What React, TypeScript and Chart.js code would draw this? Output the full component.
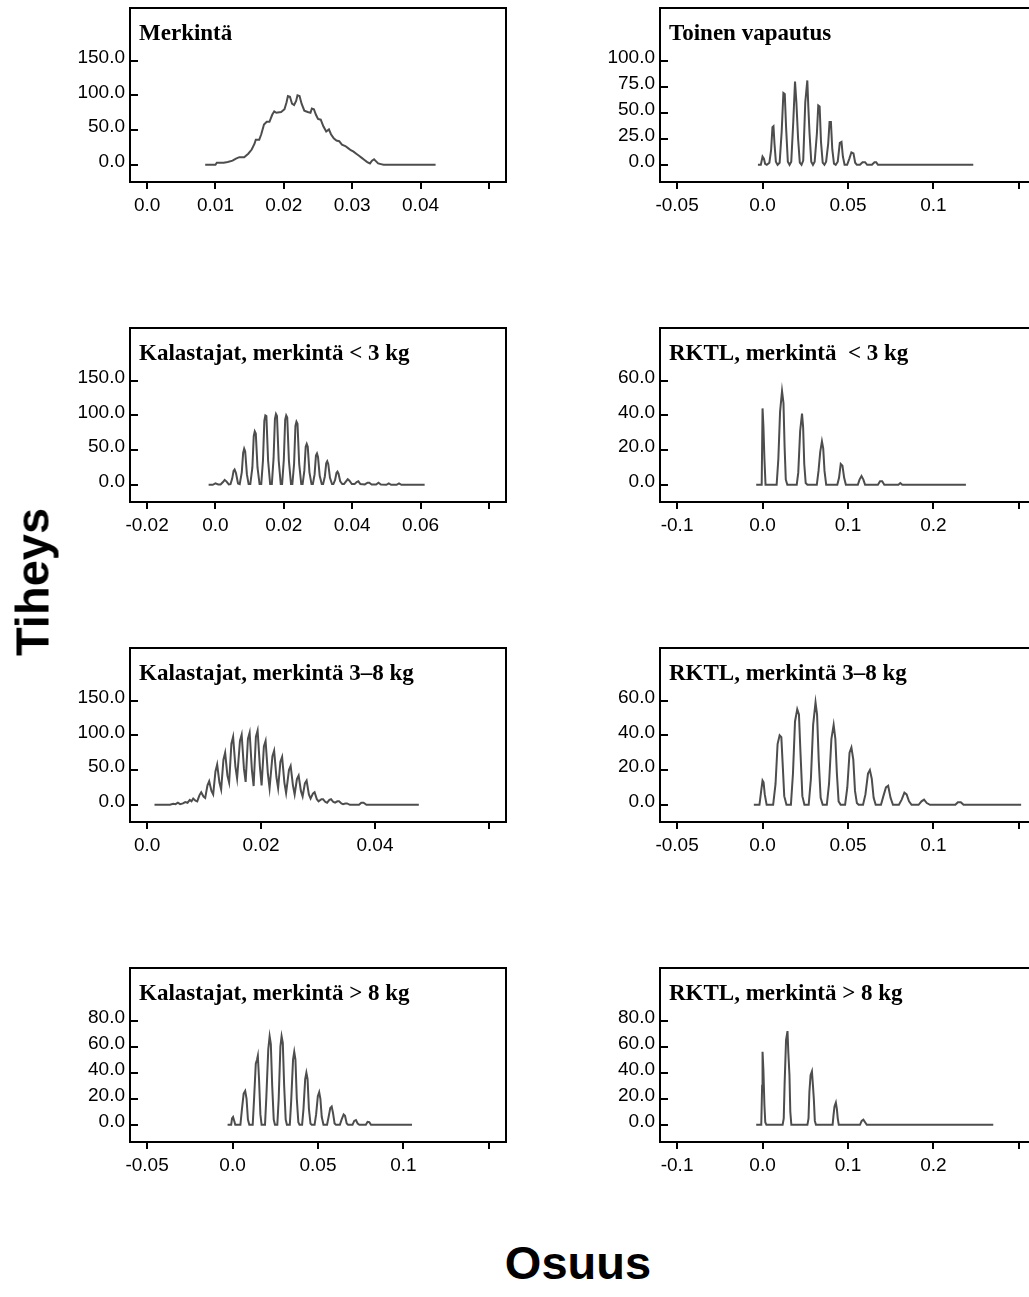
import React, { useEffect, useRef } from 'react';
import { Chart, registerables } from 'chart.js';

Chart.register(...registerables);

type Pt = [number, number];

// ---------- data (x = osuus, y = tiheys) ----------
const merkinta: Pt[] = [
  [0.0085, 0], [0.0100, 0], [0.0102, 3], [0.0112, 3], [0.0118, 4], [0.0125, 6], [0.0130, 9], [0.0135, 11],
  [0.0142, 11], [0.0148, 16], [0.0153, 22], [0.0157, 30], [0.0159, 36], [0.0164, 36], [0.0167, 44], [0.0171, 58],
  [0.0175, 62], [0.0179, 62], [0.0183, 72], [0.0186, 77], [0.0189, 75], [0.0196, 76], [0.0201, 80], [0.0204, 90],
  [0.0206, 99], [0.0209, 98], [0.0212, 88], [0.0215, 86], [0.0218, 92], [0.0220, 100], [0.0223, 99], [0.0226, 88],
  [0.0230, 78], [0.0235, 76], [0.0239, 75], [0.0241, 81], [0.0244, 80], [0.0247, 72], [0.0250, 66], [0.0254, 65],
  [0.0258, 55], [0.0262, 48], [0.0266, 51], [0.0269, 44], [0.0273, 38], [0.0277, 35], [0.0281, 34], [0.0285, 29],
  [0.0290, 27], [0.0294, 24], [0.0298, 21], [0.0302, 19], [0.0306, 16], [0.0310, 13], [0.0314, 10], [0.0318, 7],
  [0.0322, 4], [0.0326, 2], [0.0329, 6], [0.0332, 8], [0.0335, 5], [0.0338, 2], [0.0342, 1], [0.0346, 0],
  [0.0422, 0],
];

const toinenVapautus: Pt[] = [
  [-0.0027, 0], [-0.0010, 0], [0.0000, 8], [0.0008, 6], [0.0015, 1], [0.0025, 0], [0.0040, 2], [0.0050, 14],
  [0.0058, 36], [0.0064, 37], [0.0070, 20], [0.0078, 3], [0.0088, 0], [0.0100, 2], [0.0112, 32], [0.0122, 69],
  [0.0130, 68], [0.0138, 35], [0.0148, 3], [0.0158, 0], [0.0168, 3], [0.0180, 42], [0.0190, 80], [0.0198, 60],
  [0.0208, 25], [0.0218, 2], [0.0228, 0], [0.0238, 4], [0.0250, 60], [0.0262, 81], [0.0268, 55], [0.0275, 30],
  [0.0285, 3], [0.0295, 0], [0.0305, 3], [0.0318, 30], [0.0326, 57], [0.0334, 56], [0.0342, 22], [0.0352, 2],
  [0.0362, 0], [0.0372, 3], [0.0384, 20], [0.0392, 41], [0.0400, 41], [0.0408, 15], [0.0418, 1], [0.0428, 0],
  [0.0440, 3], [0.0452, 21], [0.0462, 22], [0.0470, 8], [0.0480, 0], [0.0495, 0], [0.0508, 6], [0.0520, 12],
  [0.0532, 11], [0.0542, 2], [0.0552, 0], [0.0570, 0], [0.0585, 2.5], [0.0600, 2.5], [0.0612, 0], [0.0640, 0],
  [0.0655, 2.5], [0.0665, 2.5], [0.0675, 0], [0.1233, 0],
];

const kalastajatAlle3: Pt[] = [
  [-0.0020, 0], [-0.0008, 0], [0.0000, 2], [0.0008, 0.5],
  [0.0015, 0.5], [0.0022, 4], [0.0027, 7], [0.0032, 5], [0.0039, 0.5],
  [0.0044, 1], [0.0049, 9], [0.0053, 20], [0.0056, 22], [0.0060, 17], [0.0066, 2],
  [0.0071, 1], [0.0077, 18], [0.0081, 46], [0.0084, 52], [0.0087, 48], [0.0092, 15], [0.0097, 1],
  [0.0102, 1], [0.0108, 25], [0.0112, 70], [0.0115, 77], [0.0118, 74], [0.0123, 25], [0.0129, 1],
  [0.0134, 1], [0.0139, 35], [0.0143, 92], [0.0146, 100], [0.0149, 99], [0.0154, 35], [0.0160, 1],
  [0.0165, 1], [0.0170, 38], [0.0174, 95], [0.0177, 102], [0.0180, 99], [0.0185, 35], [0.0191, 1],
  [0.0195, 1], [0.0200, 36], [0.0204, 94], [0.0207, 100], [0.0210, 97], [0.0215, 34], [0.0221, 1],
  [0.0225, 1], [0.0230, 30], [0.0234, 85], [0.0237, 91], [0.0240, 88], [0.0245, 30], [0.0251, 1],
  [0.0255, 1], [0.0260, 20], [0.0264, 55], [0.0267, 59], [0.0270, 55], [0.0275, 18], [0.0281, 1],
  [0.0285, 1], [0.0290, 15], [0.0294, 42], [0.0297, 45], [0.0300, 40], [0.0305, 13], [0.0311, 1],
  [0.0315, 1], [0.0320, 12], [0.0324, 31], [0.0327, 34], [0.0330, 30], [0.0335, 10], [0.0341, 1],
  [0.0345, 1], [0.0350, 7], [0.0354, 17], [0.0357, 19], [0.0360, 16], [0.0365, 5], [0.0371, 1],
  [0.0376, 1], [0.0382, 5], [0.0387, 8], [0.0392, 6], [0.0399, 1],
  [0.0407, 1], [0.0413, 4], [0.0418, 5], [0.0424, 1],
  [0.0437, 0.5], [0.0445, 3], [0.0450, 3], [0.0457, 0.5],
  [0.0470, 0.5], [0.0477, 3], [0.0484, 0.5],
  [0.0500, 0], [0.0507, 2], [0.0514, 0],
  [0.0530, 0], [0.0537, 2], [0.0544, 0], [0.0612, 0],
];

const rktlAlle3: Pt[] = [
  [-0.0074, 0], [-0.0010, 0], [0.0000, 44], [0.0010, 34], [0.0022, 15], [0.0035, 0], [0.0165, 0], [0.0185, 15],
  [0.0205, 42], [0.0228, 54], [0.0245, 47], [0.0258, 22], [0.0272, 3], [0.0290, 0], [0.0400, 0], [0.0418, 7],
  [0.0440, 31], [0.0462, 41], [0.0475, 33], [0.0488, 12], [0.0505, 1], [0.0525, 0], [0.0635, 0], [0.0655, 8],
  [0.0675, 19], [0.0695, 25], [0.0710, 21], [0.0725, 8], [0.0745, 0], [0.0875, 0], [0.0895, 4], [0.0915, 12],
  [0.0935, 11], [0.0955, 4], [0.0975, 0], [0.1115, 0], [0.1135, 3], [0.1158, 5], [0.1180, 3], [0.1200, 0],
  [0.1350, 0], [0.1375, 2], [0.1400, 2], [0.1425, 0], [0.1590, 0], [0.1612, 1], [0.1635, 0], [0.2380, 0],
];

const kalastajat3to8: Pt[] = [
  [0.0013, 0], [0.0040, 0], [0.0046, 1.5], [0.0050, 1], [0.0054, 3], [0.0058, 1], [0.0063, 2], [0.0067, 4],
  [0.0071, 3], [0.0075, 7], [0.0078, 5], [0.0081, 9], [0.0085, 6], [0.0088, 5], [0.0092, 14], [0.0095, 18],
  [0.0099, 12], [0.0102, 10], [0.0106, 28], [0.0109, 34], [0.0113, 20], [0.0116, 15], [0.0120, 48], [0.0123, 58],
  [0.0127, 32], [0.0130, 22], [0.0134, 65], [0.0137, 75], [0.0141, 42], [0.0144, 32], [0.0148, 88], [0.0151, 98],
  [0.0155, 55], [0.0158, 38], [0.0163, 92], [0.0166, 101], [0.0170, 52], [0.0173, 33], [0.0177, 95], [0.0180, 104],
  [0.0184, 50], [0.0187, 27], [0.0191, 98], [0.0194, 107], [0.0198, 55], [0.0201, 28], [0.0205, 84], [0.0208, 92],
  [0.0212, 45], [0.0215, 24], [0.0220, 70], [0.0223, 78], [0.0227, 40], [0.0230, 24], [0.0234, 62], [0.0237, 69],
  [0.0241, 32], [0.0244, 17], [0.0249, 50], [0.0252, 56], [0.0256, 28], [0.0259, 15], [0.0263, 37], [0.0266, 42],
  [0.0270, 20], [0.0273, 12], [0.0277, 31], [0.0280, 35], [0.0284, 15], [0.0287, 9], [0.0291, 16], [0.0294, 18],
  [0.0298, 8], [0.0301, 5], [0.0306, 8], [0.0309, 8], [0.0313, 4], [0.0316, 3], [0.0320, 7], [0.0323, 8],
  [0.0327, 4], [0.0330, 3], [0.0334, 5], [0.0337, 5], [0.0341, 2], [0.0344, 1], [0.0348, 2], [0.0351, 2],
  [0.0356, 0], [0.0372, 0], [0.0376, 3], [0.0380, 3], [0.0385, 0], [0.0477, 0],
];

const rktl3to8: Pt[] = [
  [-0.0051, 0], [-0.0018, 0], [-0.0008, 8], [0.0000, 14], [0.0006, 13], [0.0013, 6], [0.0024, 0], [0.0062, 0],
  [0.0076, 12], [0.0088, 35], [0.0100, 40], [0.0110, 39], [0.0117, 25], [0.0127, 5], [0.0140, 0], [0.0166, 0],
  [0.0178, 18], [0.0190, 48], [0.0203, 55], [0.0213, 52], [0.0222, 30], [0.0233, 5], [0.0245, 0], [0.0270, 0],
  [0.0283, 15], [0.0296, 46], [0.0310, 59], [0.0319, 52], [0.0329, 25], [0.0340, 4], [0.0352, 0], [0.0376, 0],
  [0.0389, 12], [0.0403, 38], [0.0416, 46], [0.0426, 38], [0.0435, 18], [0.0445, 2], [0.0457, 0], [0.0483, 0],
  [0.0496, 10], [0.0509, 30], [0.0520, 33], [0.0531, 26], [0.0541, 8], [0.0552, 1], [0.0562, 0], [0.0588, 0],
  [0.0602, 6], [0.0617, 18], [0.0628, 20], [0.0639, 15], [0.0650, 4], [0.0662, 0], [0.0693, 0], [0.0707, 5],
  [0.0722, 10], [0.0735, 11], [0.0749, 4], [0.0763, 0], [0.0798, 0], [0.0814, 3], [0.0830, 7], [0.0843, 6],
  [0.0857, 2], [0.0872, 0], [0.0913, 0], [0.0930, 2], [0.0945, 3], [0.0961, 1], [0.0980, 0], [0.1128, 0],
  [0.1143, 1.5], [0.1160, 1.5], [0.1176, 0], [0.1513, 0],
];

const kalastajatYli8: Pt[] = [
  [-0.0029, 0], [-0.0008, 0], [-0.0003, 5], [0.0003, 6], [0.0010, 3], [0.0016, 0], [0.0046, 0], [0.0055, 12],
  [0.0065, 24], [0.0074, 26], [0.0082, 20], [0.0090, 4], [0.0098, 0], [0.0118, 0], [0.0126, 20], [0.0136, 47],
  [0.0143, 50], [0.0148, 53], [0.0155, 35], [0.0163, 8], [0.0170, 0], [0.0190, 0], [0.0198, 22], [0.0209, 58],
  [0.0217, 68], [0.0224, 62], [0.0232, 30], [0.0241, 4], [0.0248, 0], [0.0262, 0], [0.0270, 20], [0.0280, 60],
  [0.0287, 68], [0.0294, 63], [0.0302, 30], [0.0311, 4], [0.0318, 0], [0.0335, 0], [0.0343, 18], [0.0354, 50],
  [0.0361, 56], [0.0368, 50], [0.0376, 20], [0.0385, 2], [0.0392, 0], [0.0407, 0], [0.0415, 12], [0.0425, 35],
  [0.0432, 40], [0.0439, 35], [0.0447, 12], [0.0456, 1], [0.0463, 0], [0.0480, 0], [0.0489, 8], [0.0499, 22],
  [0.0507, 25], [0.0514, 20], [0.0522, 6], [0.0532, 0], [0.0553, 0], [0.0562, 6], [0.0572, 13], [0.0580, 14],
  [0.0588, 9], [0.0597, 1], [0.0605, 0], [0.0628, 0], [0.0638, 4], [0.0650, 8], [0.0658, 7], [0.0668, 1],
  [0.0676, 0], [0.0702, 0], [0.0712, 3], [0.0722, 3.6], [0.0732, 1], [0.0742, 0], [0.0780, 0], [0.0790, 2.3],
  [0.0800, 2], [0.0810, 0], [0.1050, 0],
];

const rktlYli8: Pt[] = [
  [-0.0074, 0], [-0.0015, 0], [-0.0005, 30], [0.0000, 56], [0.0010, 42], [0.0022, 15], [0.0032, 2], [0.0045, 0],
  [0.0235, 0], [0.0248, 5], [0.0258, 31], [0.0275, 65], [0.0292, 72], [0.0302, 55], [0.0315, 38], [0.0325, 10],
  [0.0337, 0], [0.0525, 0], [0.0538, 5], [0.0548, 25], [0.0562, 38], [0.0578, 41], [0.0590, 30], [0.0600, 20],
  [0.0612, 3], [0.0625, 0], [0.0820, 0], [0.0830, 7], [0.0842, 14], [0.0858, 17], [0.0870, 12], [0.0880, 5],
  [0.0892, 0], [0.1140, 0], [0.1160, 3], [0.1180, 4], [0.1200, 2], [0.1220, 0], [0.2700, 0],
];

// ---------- tick values and labels ----------
const yTicks150 = [0, 50, 100, 150];
const yTicks100 = [0, 25, 50, 75, 100];
const yTicks60 = [0, 20, 40, 60];
const yTicks80 = [0, 20, 40, 60, 80];

const xTicksA = [0, 0.01, 0.02, 0.03, 0.04, 0.05];
const xLabelsA = ['0.0', '0.01', '0.02', '0.03', '0.04', ''];
const xTicksB = [-0.05, 0, 0.05, 0.1, 0.15];
const xLabelsB = ['-0.05', '0.0', '0.05', '0.1', ''];
const xTicksC = [-0.02, 0, 0.02, 0.04, 0.06, 0.08];
const xLabelsC = ['-0.02', '0.0', '0.02', '0.04', '0.06', ''];
const xTicksD = [-0.1, 0, 0.1, 0.2, 0.3];
const xLabelsD = ['-0.1', '0.0', '0.1', '0.2', ''];
const xTicksE = [0, 0.02, 0.04, 0.06];
const xLabelsE = ['0.0', '0.02', '0.04', ''];

const titles = [
  'Merkintä',
  'Toinen vapautus',
  'Kalastajat, merkintä < 3 kg',
  'RKTL, merkintä  < 3 kg',
  'Kalastajat, merkintä 3–8 kg',
  'RKTL, merkintä 3–8 kg',
  'Kalastajat, merkintä > 8 kg',
  'RKTL, merkintä > 8 kg',
];

const yAxisTitle = 'Tiheys';
const xAxisTitle = 'Osuus';

interface PanelDef {
  title: string;
  data: Pt[];
  xTicks: number[];
  xLabels: string[];
  xRange: [number, number];
  yTicks: number[];
  yRange: [number, number];
  col: number;
  row: number;
}

const panels: PanelDef[] = [
  { title: titles[0], data: merkinta, xTicks: xTicksA, xLabels: xLabelsA, xRange: [-0.0025, 0.0525], yTicks: yTicks150, yRange: [-24.75, 225.75], col: 0, row: 0 },
  { title: titles[1], data: toinenVapautus, xTicks: xTicksB, xLabels: xLabelsB, xRange: [-0.06, 0.16], yTicks: yTicks100, yRange: [-16.5, 150.5], col: 1, row: 0 },
  { title: titles[2], data: kalastajatAlle3, xTicks: xTicksC, xLabels: xLabelsC, xRange: [-0.025, 0.085], yTicks: yTicks150, yRange: [-24.75, 225.75], col: 0, row: 1 },
  { title: titles[3], data: rktlAlle3, xTicks: xTicksD, xLabels: xLabelsD, xRange: [-0.12, 0.32], yTicks: yTicks60, yRange: [-9.9, 90.3], col: 1, row: 1 },
  { title: titles[4], data: kalastajat3to8, xTicks: xTicksE, xLabels: xLabelsE, xRange: [-0.003, 0.063], yTicks: yTicks150, yRange: [-24.75, 225.75], col: 0, row: 2 },
  { title: titles[5], data: rktl3to8, xTicks: xTicksB, xLabels: xLabelsB, xRange: [-0.06, 0.16], yTicks: yTicks60, yRange: [-9.9, 90.3], col: 1, row: 2 },
  { title: titles[6], data: kalastajatYli8, xTicks: xTicksB, xLabels: xLabelsB, xRange: [-0.06, 0.16], yTicks: yTicks80, yRange: [-13.2, 120.4], col: 0, row: 3 },
  { title: titles[7], data: rktlYli8, xTicks: xTicksD, xLabels: xLabelsD, xRange: [-0.12, 0.32], yTicks: yTicks80, yRange: [-13.2, 120.4], col: 1, row: 3 },
];

// ---------- layout ----------
const COL_LEFT = [130, 660];
const ROW_TOP = [8, 328, 648, 968];
const BOX_W = 376;
const BOX_H = 174;
const Y_AXIS_W = 90;
const X_AXIS_H = 50;
const PAD_TOP = 8;
const PAD_RIGHT = 10;
const CANVAS_W = Y_AXIS_W + BOX_W + PAD_RIGHT;
const CANVAS_H = PAD_TOP + BOX_H + X_AXIS_H;

const framePlugin = (title: string) => ({
  id: 'frameAndTitle',
  afterDraw(chart: any) {
    const { ctx, chartArea: a, scales } = chart;
    ctx.save();
    ctx.strokeStyle = '#000';
    ctx.lineWidth = 2;
    ctx.strokeRect(a.left, a.top, a.right - a.left, a.bottom - a.top);
    ctx.beginPath();
    for (const t of scales.x.ticks) {
      const px = Math.round(scales.x.getPixelForValue(t.value));
      ctx.moveTo(px, a.bottom);
      ctx.lineTo(px, a.bottom + 7);
    }
    for (const t of scales.y.ticks) {
      const py = Math.round(scales.y.getPixelForValue(t.value));
      ctx.moveTo(a.left, py);
      ctx.lineTo(a.left + 8, py);
    }
    ctx.stroke();
    ctx.fillStyle = '#000';
    ctx.font = 'bold 23px "Liberation Serif", "Times New Roman", serif';
    ctx.textBaseline = 'alphabetic';
    ctx.textAlign = 'left';
    ctx.fillText(title, a.left + 9, a.top + 32);
    ctx.restore();
  },
});

function Panel({ def }: { def: PanelDef }) {
  const ref = useRef<HTMLCanvasElement | null>(null);
  useEffect(() => {
    if (!ref.current) return;
    const tickFont = { family: '"Liberation Sans", Arial, sans-serif', size: 19 };
    const chart = new Chart(ref.current, {
      type: 'line',
      data: {
        datasets: [
          {
            data: def.data.map(([x, y]) => ({ x, y })),
            borderColor: '#4d4d4d',
            borderWidth: 2,
            pointRadius: 0,
            tension: 0,
            fill: false,
          },
        ],
      },
      options: {
        animation: false,
        responsive: false,
        maintainAspectRatio: false,
        events: [],
        layout: { padding: { top: PAD_TOP, right: PAD_RIGHT, left: 0, bottom: 0 } },
        plugins: { legend: { display: false }, tooltip: { enabled: false }, title: { display: false } },
        scales: {
          x: {
            type: 'linear',
            min: def.xRange[0],
            max: def.xRange[1],
            afterBuildTicks: (s: any) => {
              s.ticks = def.xTicks.map((v) => ({ value: v }));
            },
            afterFit: (s: any) => {
              s.height = X_AXIS_H;
              s.paddingLeft = 0;
              s.paddingRight = 0;
              s.paddingTop = 0;
              s.paddingBottom = 0;
            },
            grid: { display: false, drawTicks: false },
            border: { display: false },
            ticks: {
              autoSkip: false,
              maxRotation: 0,
              minRotation: 0,
              padding: 12,
              color: '#000',
              font: tickFont,
              callback: (_v: any, i: number) => def.xLabels[i],
            },
          },
          y: {
            type: 'linear',
            min: def.yRange[0],
            max: def.yRange[1],
            afterBuildTicks: (s: any) => {
              s.ticks = def.yTicks.map((v) => ({ value: v }));
            },
            afterFit: (s: any) => {
              s.width = Y_AXIS_W;
              s.paddingTop = 0;
              s.paddingBottom = 0;
              s.paddingLeft = 0;
              s.paddingRight = 0;
            },
            grid: { display: false, drawTicks: false },
            border: { display: false },
            ticks: {
              autoSkip: false,
              padding: 5,
              labelOffset: -3,
              color: '#000',
              font: tickFont,
              callback: (v: any) => Number(v).toFixed(1),
            },
          },
        },
      } as any,
      plugins: [framePlugin(def.title)],
    });
    return () => chart.destroy();
  }, [def]);

  const left = COL_LEFT[def.col] - Y_AXIS_W;
  const top = ROW_TOP[def.row] - PAD_TOP;
  return (
    <canvas
      ref={ref}
      width={CANVAS_W}
      height={CANVAS_H}
      style={{ position: 'absolute', left, top, width: CANVAS_W, height: CANVAS_H }}
    />
  );
}

export default function App() {
  return (
    <div
      style={{
        position: 'absolute',
        left: 0,
        top: 0,
        width: 1029,
        height: 1297,
        overflow: 'hidden',
        background: '#fff',
      }}
    >
      {panels.map((p, i) => (
        <Panel key={i} def={p} />
      ))}
      <div
        style={{
          position: 'absolute',
          left: 32,
          top: 582,
          transform: 'translate(-50%, -50%) rotate(-90deg)',
          font: 'bold 47px "Liberation Sans", Arial, sans-serif',
          lineHeight: '1',
          whiteSpace: 'nowrap',
          color: '#000',
        }}
      >
        {yAxisTitle}
      </div>
      <div
        style={{
          position: 'absolute',
          left: 578,
          top: 1262,
          transform: 'translate(-50%, -50%)',
          font: 'bold 47px "Liberation Sans", Arial, sans-serif',
          lineHeight: '1',
          whiteSpace: 'nowrap',
          color: '#000',
        }}
      >
        {xAxisTitle}
      </div>
    </div>
  );
}
